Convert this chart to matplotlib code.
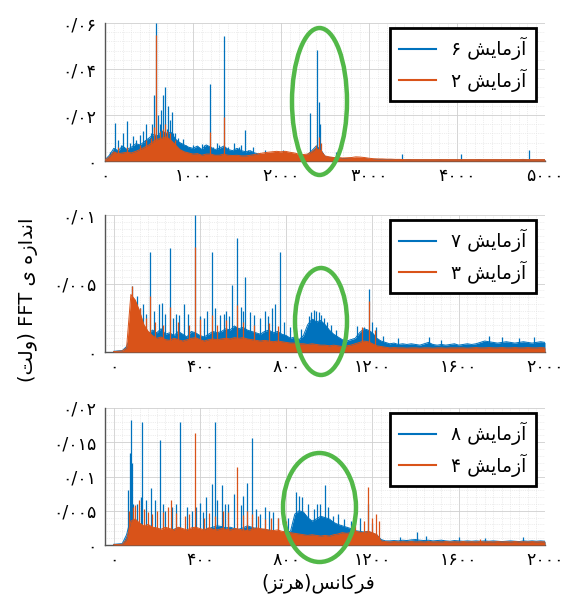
import numpy as np
import matplotlib
matplotlib.use("Agg")
import matplotlib.pyplot as plt
from matplotlib.patches import Ellipse
from matplotlib.lines import Line2D
from matplotlib.ticker import MultipleLocator

plt.rcParams['font.family'] = ['DejaVu Sans']

BLUE = '#0072BD'
ORANGE = '#D95319'
GREEN = '#52B848'

# ---------------- Panel 1 (0-5000 Hz) ----------------
p1_freq = np.arange(0, 5001, 50)
# envelope of the dense FFT noise, units of 1e-4 V
p1_blue_base = [5, 25, 55, 45, 65, 50, 60, 75, 70, 85, 100, 115, 110, 130, 120, 125, 95, 80, 70, 60,
                55, 65, 50, 70, 60, 50, 55, 65, 50, 45, 55, 45, 40, 45, 35, 30, 25, 28, 25, 25,
                24, 25, 22, 22, 20, 22, 26, 45, 65, 50, 20, 15, 14, 13, 11, 11, 12, 10, 10, 10,
                8, 7, 7, 6, 6, 6, 6, 6, 5, 6, 5, 5, 5, 5, 5, 5, 6, 5, 5, 5,
                5, 5, 5, 5, 5, 6, 5, 5, 5, 5, 5, 5, 5, 5, 5, 7, 5, 5, 5, 5, 5]
p1_orange_base = [3, 18, 40, 32, 35, 38, 35, 42, 50, 60, 70, 85, 95, 100, 105, 90, 70, 50, 40, 35,
                  30, 32, 25, 30, 30, 25, 25, 30, 25, 24, 25, 22, 22, 25, 28, 32, 35, 38, 40, 42,
                  40, 42, 38, 35, 30, 28, 30, 40, 55, 45, 22, 18, 15, 15, 13, 14, 15, 18, 17, 15,
                  12, 10, 9, 9, 8, 8, 7, 7, 6, 6, 6, 6, 6, 6, 6, 6, 6, 6, 6, 6,
                  6, 6, 6, 6, 6, 6, 6, 6, 6, 6, 6, 6, 6, 6, 6, 6, 6, 6, 6, 6, 6]
p1_blue_pk_f = [60, 114, 150, 180, 200, 254, 280, 320, 350, 398, 430, 450, 470, 492, 520, 530, 561, 580,
                606, 620, 640, 663, 682, 700, 712, 735, 758, 770, 800, 830, 860, 890, 920, 950, 1004,
                1050, 1098, 1130, 1193, 1230, 1270, 1300, 1356, 1400, 1470, 1520, 1550, 1591, 1620,
                1680, 1818, 2027, 2333, 2407, 2427, 2448, 2620, 3370, 4050, 4820]
p1_blue_pk_v = [0.004, 0.0166, 0.009, 0.007, 0.012, 0.0172, 0.008, 0.011, 0.009, 0.0111, 0.013, 0.009,
                0.016, 0.0097, 0.012, 0.016, 0.0285, 0.0600, 0.0198, 0.016, 0.022, 0.0285, 0.0321,
                0.014, 0.0241, 0.018, 0.0213, 0.012, 0.012, 0.010, 0.008, 0.0094, 0.007, 0.006, 0.0068,
                0.006, 0.0075, 0.007, 0.0335, 0.006, 0.008, 0.007, 0.0542, 0.006, 0.008, 0.006, 0.007,
                0.0133, 0.005, 0.006, 0.0046, 0.0046, 0.0207, 0.0483, 0.0257, 0.0161, 0.004, 0.003,
                0.003, 0.005]
p1_orange_pk_f = [150, 250, 400, 470, 520, 560, 580, 620, 663, 680, 700, 740, 800, 1193, 1356, 2400,
                  2427, 2450]
p1_orange_pk_v = [0.006, 0.006, 0.007, 0.009, 0.010, 0.015, 0.0550, 0.013, 0.014, 0.016, 0.013, 0.012,
                  0.009, 0.0126, 0.0190, 0.007, 0.0105, 0.008]

# ---------------- Panel 2 (0-2000 Hz) ----------------
p2_freq = np.arange(0, 2001, 20)
# units of 1e-5 V
p2_blue_base = [5, 8, 10, 40, 120, 150, 180, 150, 130, 160, 140, 170, 130, 140, 120, 150, 130, 110, 150, 140,
                120, 110, 130, 150, 140, 150, 170, 160, 190, 170, 180, 160, 150, 140, 130, 150, 160, 140, 150, 130,
                120, 100, 110, 90, 120, 200, 240, 220, 230, 200, 160, 130, 110, 90, 80, 90, 100, 140, 170, 160,
                140, 100, 80, 70, 60, 65, 55, 60, 55, 60, 55, 50, 60, 70, 55, 50, 55, 50, 55, 60,
                50, 55, 60, 55, 60, 70, 80, 75, 70, 65, 70, 75, 70, 65, 70, 75, 70, 65, 70, 75, 70]
p2_orange_base = [3, 5, 8, 30, 420, 380, 300, 200, 150, 120, 100, 110, 90, 85, 100, 90, 80, 90, 100, 105,
                  90, 80, 90, 95, 90, 95, 100, 95, 105, 100, 105, 95, 90, 85, 80, 85, 80, 75, 80, 75,
                  70, 65, 65, 60, 60, 55, 60, 55, 50, 50, 45, 50, 45, 40, 45, 50, 60, 70, 80, 75,
                  60, 45, 40, 35, 30, 32, 30, 30, 28, 30, 30, 28, 30, 30, 28, 30, 30, 28, 30, 30,
                  30, 30, 28, 30, 32, 30, 30, 32, 30, 30, 32, 30, 30, 32, 30, 30, 32, 30, 30, 32, 30]
p2_blue_pk_f = [83, 100, 109, 120, 137, 150, 168, 185, 209, 224, 240, 263, 275, 290, 305, 324, 345, 375,
                400, 420, 435, 455, 470, 493, 510, 520, 535, 550, 570, 590, 600, 609, 632, 650, 680,
                700, 715, 732, 747, 770, 790, 820, 870, 905, 915, 925, 930, 940, 950, 960, 975, 990,
                1010, 1030, 1130, 1162, 1182, 1200, 1215, 1250, 1320, 1460, 1520, 1740, 1800, 1880, 1950]
p2_blue_pk_v = [0.0048, 0.0030, 0.0041, 0.0032, 0.0035, 0.0028, 0.0073, 0.0030, 0.0035, 0.0036, 0.0028,
                0.0076, 0.0025, 0.0028, 0.0027, 0.0035, 0.0028, 0.0100, 0.0026, 0.0025, 0.0030, 0.0073,
                0.0032, 0.0027, 0.0028, 0.0030, 0.0026, 0.0049, 0.0083, 0.0033, 0.0030, 0.0055, 0.0029,
                0.0027, 0.0025, 0.0030, 0.0026, 0.0032, 0.0035, 0.0073, 0.0022, 0.0018, 0.0017, 0.0026,
                0.0029, 0.0024, 0.0031, 0.0030, 0.0029, 0.0027, 0.0025, 0.0022, 0.0020, 0.0016, 0.0019,
                0.0018, 0.0046, 0.0022, 0.0018, 0.0012, 0.0010, 0.0011, 0.0009, 0.0012, 0.0011, 0.0010,
                0.0011]
p2_orange_pk_f = [85, 120, 150, 168, 190, 230, 263, 300, 350, 375, 400, 455, 480, 520, 570, 600, 650,
                  720, 760, 1150, 1182, 1210]
p2_orange_pk_v = [0.0048, 0.0032, 0.0025, 0.0041, 0.0022, 0.0020, 0.0033, 0.0022, 0.0020, 0.0077, 0.0024,
                  0.0027, 0.0020, 0.0023, 0.0034, 0.0022, 0.0020, 0.0021, 0.0019, 0.0018, 0.0037, 0.0016]

# ---------------- Panel 3 (0-2000 Hz) ----------------
p3_freq = np.arange(0, 2001, 20)
# units of 1e-5 V
p3_blue_base = [10, 15, 20, 150, 400, 350, 300, 250, 220, 250, 230, 200, 220, 210, 230, 250, 220, 200, 230, 210,
                200, 220, 240, 260, 280, 270, 250, 260, 240, 230, 250, 280, 260, 240, 220, 230, 210, 200, 190, 180,
                190, 200, 450, 500, 480, 400, 350, 380, 420, 400, 380, 330, 300, 280, 260, 240, 210, 200, 190, 200,
                170, 150, 80, 60, 60, 65, 60, 70, 65, 75, 80, 70, 65, 70, 60, 65, 70, 60, 55, 65,
                60, 55, 60, 55, 60, 55, 60, 55, 60, 55, 50, 55, 60, 55, 50, 60, 55, 60, 55, 60, 55]
p3_orange_base = [5, 8, 10, 80, 350, 380, 320, 280, 300, 260, 250, 230, 260, 240, 220, 260, 240, 220, 250, 260,
                  240, 220, 250, 230, 220, 240, 230, 220, 240, 230, 220, 210, 230, 250, 240, 230, 220, 210, 220, 200,
                  190, 180, 170, 160, 150, 140, 150, 140, 130, 140, 130, 150, 160, 180, 170, 180, 200, 190, 180, 200,
                  180, 150, 60, 50, 45, 50, 45, 48, 45, 50, 45, 48, 45, 50, 45, 48, 45, 50, 45, 48,
                  45, 50, 45, 48, 45, 50, 45, 48, 45, 50, 45, 48, 45, 50, 45, 48, 45, 50, 45, 48, 45]
p3_blue_pk_f = [68, 74, 80, 86, 92, 110, 125, 132, 150, 171, 190, 214, 230, 240, 270, 290, 309, 340, 363,
                380, 400, 415, 430, 455, 468, 480, 501, 515, 530, 560, 590, 600, 617, 640, 660, 680, 700,
                720, 740, 760, 790, 810, 845, 860, 875, 900, 928, 945, 959, 978, 993, 1016, 1040, 1070,
                1100, 1140, 1181, 1200, 1330, 1407, 1450, 1600, 1720, 1900]
p3_blue_pk_v = [0.0080, 0.0135, 0.0182, 0.0120, 0.0060, 0.0060, 0.0070, 0.0179, 0.0065, 0.0083, 0.0065,
                0.0153, 0.0060, 0.0050, 0.0055, 0.0060, 0.0179, 0.0055, 0.0049, 0.0055, 0.0062, 0.0048,
                0.0070, 0.0089, 0.0180, 0.0065, 0.0088, 0.0060, 0.0060, 0.0075, 0.0058, 0.0072, 0.0090,
                0.0156, 0.0052, 0.0045, 0.0055, 0.0050, 0.0048, 0.0040, 0.0042, 0.0040, 0.0077, 0.0072,
                0.0070, 0.0060, 0.0053, 0.0060, 0.0060, 0.0088, 0.0055, 0.0042, 0.0045, 0.0038, 0.0035,
                0.0040, 0.0060, 0.0032, 0.0012, 0.0019, 0.0013, 0.0011, 0.0010, 0.0012]
p3_orange_pk_f = [72, 90, 100, 117, 140, 160, 180, 200, 230, 250, 266, 290, 330, 350, 378, 420, 440, 470,
                  505, 530, 570, 600, 620, 640, 670, 700, 730, 760, 800, 1120, 1160, 1181, 1200, 1215,
                  1230, 1700]
p3_orange_pk_v = [0.0050, 0.0055, 0.0058, 0.0066, 0.0052, 0.0048, 0.0045, 0.0050, 0.0048, 0.0055, 0.0065,
                  0.0047, 0.0042, 0.0045, 0.0163, 0.0040, 0.0046, 0.0042, 0.0050, 0.0048, 0.0114, 0.0044,
                  0.0050, 0.0045, 0.0042, 0.0038, 0.0040, 0.0040, 0.0035, 0.0030, 0.0035, 0.0085, 0.0040,
                  0.0045, 0.0035, 0.0009]

# ---------------- Labels ----------------
p1_xticks = [0, 1000, 2000, 3000, 4000, 5000]
p1_xticklabels = ['۰', '۱۰۰۰', '۲۰۰۰', '۳۰۰۰', '۴۰۰۰', '۵۰۰۰']
p23_xticks = [0, 400, 800, 1200, 1600, 2000]
p23_xticklabels = ['۰', '۴۰۰', '۸۰۰', '۱۲۰۰', '۱۶۰۰', '۲۰۰۰']
p1_yticks = [0, 0.02, 0.04, 0.06]
p1_yticklabels = ['۰', '۰/۰۲', '۰/۰۴', '۰/۰۶']
p2_yticks = [0, 0.005, 0.01]
p2_yticklabels = ['۰', '۰/۰۰۵', '۰/۰۱']
p3_yticks = [0, 0.005, 0.01, 0.015, 0.02]
p3_yticklabels = ['۰', '۰/۰۰۵', '۰/۰۱', '۰/۰۱۵', '۰/۰۲']

# visual (pre-shaped, left-to-right) Persian strings
WORD_TEST = '\uFEB6\uFBFE\uFE8E\uFEE3\u0632\u0622'          # آزمایش
legend_p1 = ['۶ ' + WORD_TEST, '۲ ' + WORD_TEST]
legend_p2 = ['۷ ' + WORD_TEST, '۳ ' + WORD_TEST]
legend_p3 = ['۸ ' + WORD_TEST, '۴ ' + WORD_TEST]
ylabel_text = '(' + '\uFE96\uFEDF\u0648' + ') FFT \u06CC ' + '\u0647\u0632\u0627\uFEAA\uFEE7\u0627'
xlabel_text = '(' + '\uFEB0\uFE97\uFEAE\uFEEB' + ')' + '\uFEB2\uFEE7\uFE8E\uFB90\uFEAE\uFED3'

W, H = 572, 601
fig = plt.figure(figsize=(W / 100, H / 100), dpi=100)
fig.patch.set_facecolor('white')


def px_axes(left, top, right, bottom):
    return fig.add_axes([left / W, 1 - bottom / H, (right - left) / W, (bottom - top) / H])


def draw_panel(ax, f, bb, ob, scale, bpf, bpv, opf, opv, xlim, ylim, xt, xtl, yt, ytl,
               xminor, yminor, labels):
    bb = np.asarray(bb) * scale
    ob = np.asarray(ob) * scale
    ax.fill_between(f, 0, bb, color=BLUE, lw=0, zorder=2)
    ax.plot(f, bb, color=BLUE, lw=0.7, zorder=2)
    ax.vlines(bpf, 0, bpv, color=BLUE, lw=0.9, zorder=2)
    ax.fill_between(f, 0, ob, color=ORANGE, lw=0, zorder=3)
    ax.plot(f, ob, color=ORANGE, lw=0.7, zorder=3)
    ax.vlines(opf, 0, opv, color=ORANGE, lw=0.9, zorder=3)
    ax.set_xlim(*xlim)
    ax.set_ylim(*ylim)
    ax.set_xticks(xt)
    ax.set_xticklabels(xtl)
    ax.set_yticks(yt)
    ax.set_yticklabels(ytl)
    ax.xaxis.set_minor_locator(MultipleLocator(xminor))
    ax.yaxis.set_minor_locator(MultipleLocator(yminor))
    ax.set_axisbelow(True)
    ax.grid(which='major', color='#cfcfcf', lw=0.6, ls='-')
    ax.grid(which='minor', color='#dedede', lw=0.5, ls=':')
    for s in ['top', 'right']:
        ax.spines[s].set_visible(False)
    for s in ['left', 'bottom']:
        ax.spines[s].set_color('#555555')
        ax.spines[s].set_linewidth(1.0)
    ax.tick_params(which='both', direction='in', length=0, labelsize=12.5, colors='black')
    ax.tick_params(axis='x', pad=4)
    ax.tick_params(axis='y', pad=6)
    handles = [Line2D([], [], color=BLUE, lw=1.5), Line2D([], [], color=ORANGE, lw=1.5)]
    leg = ax.legend(handles, labels, loc='upper right', bbox_to_anchor=(0.98, 0.965),
                    fontsize=13.5, frameon=True, fancybox=False, borderpad=0.5,
                    labelspacing=0.42, handlelength=2.0, handletextpad=0.8, borderaxespad=0)
    leg.get_frame().set_edgecolor('black')
    leg.get_frame().set_linewidth(2.0)
    leg.get_frame().set_alpha(1)
    leg.set_zorder(10)


ax1 = px_axes(105, 23, 545, 161)
draw_panel(ax1, p1_freq, p1_blue_base, p1_orange_base, 1e-4, p1_blue_pk_f, p1_blue_pk_v,
           p1_orange_pk_f, p1_orange_pk_v, (0, 5000), (0, 0.06), p1_xticks, p1_xticklabels,
           p1_yticks, p1_yticklabels, 100, 0.004, legend_p1)

ax2 = px_axes(105, 215, 545, 352)
draw_panel(ax2, p2_freq, p2_blue_base, p2_orange_base, 1e-5, p2_blue_pk_f, p2_blue_pk_v,
           p2_orange_pk_f, p2_orange_pk_v, (-40, 2000), (0, 0.01), p23_xticks, p23_xticklabels,
           p2_yticks, p2_yticklabels, 40, 0.0005, legend_p2)

ax3 = px_axes(105, 408, 545, 545)
draw_panel(ax3, p3_freq, p3_blue_base, p3_orange_base, 1e-5, p3_blue_pk_f, p3_blue_pk_v,
           p3_orange_pk_f, p3_orange_pk_v, (-40, 2000), (0, 0.02), p23_xticks, p23_xticklabels,
           p3_yticks, p3_yticklabels, 40, 0.001, legend_p3)

# highlight ellipses (figure pixel coordinates)
for cx, cy, w, h in [(319.5, 101.5, 55, 147), (321, 321.5, 52, 107), (319.5, 507.5, 73, 109)]:
    e = Ellipse((cx / W, 1 - cy / H), w / W, h / H, transform=fig.transFigure,
                fill=False, edgecolor=GREEN, lw=3.2, zorder=20)
    fig.add_artist(e)

fig.text(28 / W, 1 - 300 / H, ylabel_text, rotation=90, ha='center', va='center', fontsize=14)
fig.text(318 / W, 1 - 583 / H, xlabel_text, ha='center', va='center', fontsize=13.5)

fig.savefig('out.png', dpi=100)
